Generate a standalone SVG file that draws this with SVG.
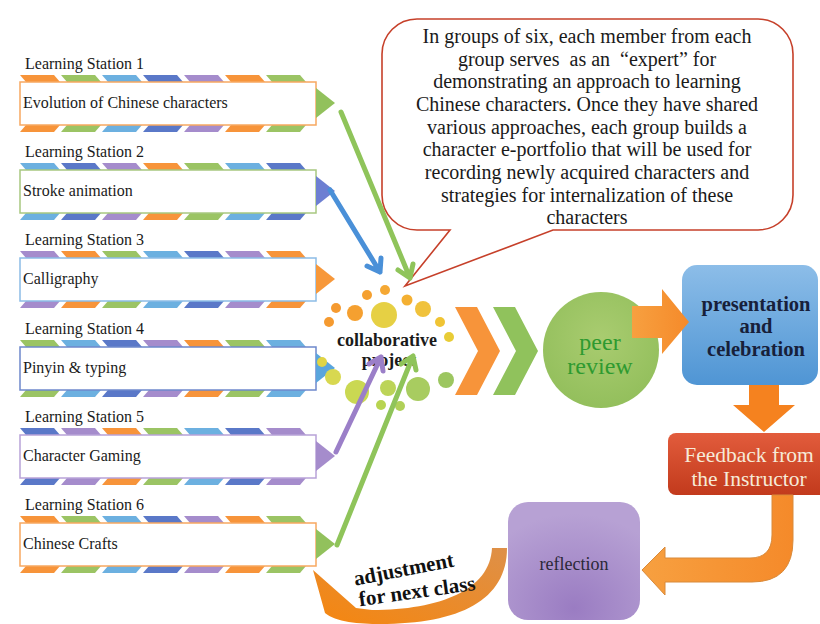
<svg xmlns="http://www.w3.org/2000/svg" xmlns:xlink="http://www.w3.org/1999/xlink" width="820" height="624" viewBox="0 0 820 624">
<defs>
<style>
.lab{font-family:"Liberation Serif","DejaVu Serif",serif;font-size:16px;fill:#1a1a1a}
.bx{fill:#fff;stroke-width:1.5}
.o{fill:#f7943a}.g{fill:#9bc464}.lb{fill:#6cb0e0}.b{fill:#5a78c8}.p{fill:#a58ccc}
.bub{font-family:"Liberation Serif","DejaVu Serif",serif;font-size:20px;fill:#1a1a1a;text-anchor:middle;white-space:pre}
.ln{fill:none;stroke-width:5;stroke-linecap:round;stroke-linejoin:round}
.bold{font-family:"Liberation Serif","DejaVu Serif",serif;font-weight:bold;text-anchor:middle}
.sf{font-family:"Liberation Serif","DejaVu Serif",serif;text-anchor:middle}
</style>
<polygon id="st" points="0,0 34,0 40,7 6,7"/>
<polygon id="sb" points="6,0 40,0 34,7 0,7"/>
<linearGradient id="gPres" x1="0" y1="0" x2="0" y2="1"><stop offset="0" stop-color="#8cbde8"/><stop offset="1" stop-color="#4f95d4"/></linearGradient>
<linearGradient id="gFb" x1="0" y1="0" x2="0" y2="1"><stop offset="0" stop-color="#e25c3c"/><stop offset="1" stop-color="#c23a1c"/></linearGradient>
<radialGradient id="gRef" cx="0.5" cy="0.9" r="0.8"><stop offset="0" stop-color="#9a7cc2"/><stop offset="1" stop-color="#b7a1d4"/></radialGradient>
<radialGradient id="gPeer" cx="0.5" cy="0.4" r="0.6"><stop offset="0" stop-color="#a9cc70"/><stop offset="1" stop-color="#93bf5c"/></radialGradient>
<linearGradient id="gOr" x1="0" y1="0" x2="1" y2="0"><stop offset="0" stop-color="#f7a040"/><stop offset="1" stop-color="#f58a2a"/></linearGradient>
<linearGradient id="gAdj" x1="1" y1="0" x2="0" y2="1"><stop offset="0" stop-color="#de9048"/><stop offset="1" stop-color="#f5860f"/></linearGradient>
</defs>
<rect width="820" height="624" fill="#ffffff"/>

<!-- Speech bubble -->
<g id="bubble">
<path d="M417 19 H758 A35 35 0 0 1 793 54 V195 A35 35 0 0 1 758 230 H553 L405 286 L450 230 H417 A35 35 0 0 1 382 195 V54 A35 35 0 0 1 417 19 Z" fill="#fff" stroke="#c6402a" stroke-width="1.6"/>
<text class="bub" x="587" y="43">In groups of six, each member from each</text>
<text class="bub" x="587" y="66">group serves  as an  “expert” for</text>
<text class="bub" x="587" y="88">demonstrating an approach to learning</text>
<text class="bub" x="587" y="111">Chinese characters. Once they have shared</text>
<text class="bub" x="587" y="134">various approaches, each group builds a</text>
<text class="bub" x="587" y="156">character e-portfolio that will be used for</text>
<text class="bub" x="587" y="179">recording newly acquired characters and</text>
<text class="bub" x="587" y="202">strategies for internalization of these</text>
<text class="bub" x="587" y="224">characters</text>
</g>

<!-- Station 1 -->
<g id="station1">
<text class="lab" x="25" y="69">Learning Station 1</text>
<use href="#st" x="20" y="75" class="o"/><use href="#st" x="61" y="75" class="g"/><use href="#st" x="102" y="75" class="lb"/><use href="#st" x="143" y="75" class="b"/><use href="#st" x="184" y="75" class="p"/><use href="#st" x="225" y="75" class="o"/><use href="#st" x="266" y="75" class="g"/>
<use href="#sb" x="20" y="125" class="o"/><use href="#sb" x="61" y="125" class="g"/><use href="#sb" x="102" y="125" class="lb"/><use href="#sb" x="143" y="125" class="b"/><use href="#sb" x="184" y="125" class="p"/><use href="#sb" x="225" y="125" class="o"/><use href="#sb" x="266" y="125" class="g"/>
<rect class="bx" x="20" y="82" width="296" height="43" stroke="#f7a860"/>
<polygon points="316,88 335,103 316,118" fill="#92c15c"/>
<text class="lab" x="23" y="108">Evolution of Chinese characters</text>
</g>

<!-- Station 2 -->
<g id="station2">
<text class="lab" x="25" y="157">Learning Station 2</text>
<use href="#st" x="20" y="163" class="lb"/><use href="#st" x="61" y="163" class="b"/><use href="#st" x="102" y="163" class="p"/><use href="#st" x="143" y="163" class="o"/><use href="#st" x="184" y="163" class="g"/><use href="#st" x="225" y="163" class="lb"/><use href="#st" x="266" y="163" class="b"/>
<use href="#sb" x="20" y="213" class="lb"/><use href="#sb" x="61" y="213" class="b"/><use href="#sb" x="102" y="213" class="p"/><use href="#sb" x="143" y="213" class="o"/><use href="#sb" x="184" y="213" class="g"/><use href="#sb" x="225" y="213" class="lb"/><use href="#sb" x="266" y="213" class="b"/>
<rect class="bx" x="20" y="170" width="296" height="43" stroke="#a8c880"/>
<polygon points="316,176 335,191 316,206" fill="#6d7fd2"/>
<text class="lab" x="23" y="196">Stroke animation</text>
</g>

<!-- Station 3 -->
<g id="station3">
<text class="lab" x="25" y="245">Learning Station 3</text>
<use href="#st" x="20" y="251" class="p"/><use href="#st" x="61" y="251" class="o"/><use href="#st" x="102" y="251" class="g"/><use href="#st" x="143" y="251" class="lb"/><use href="#st" x="184" y="251" class="b"/><use href="#st" x="225" y="251" class="p"/><use href="#st" x="266" y="251" class="o"/>
<use href="#sb" x="20" y="301" class="p"/><use href="#sb" x="61" y="301" class="o"/><use href="#sb" x="102" y="301" class="g"/><use href="#sb" x="143" y="301" class="lb"/><use href="#sb" x="184" y="301" class="b"/><use href="#sb" x="225" y="301" class="p"/><use href="#sb" x="266" y="301" class="o"/>
<rect class="bx" x="20" y="258" width="296" height="43" stroke="#8cbce6"/>
<polygon points="316,264 335,279 316,294" fill="#f7983a"/>
<text class="lab" x="23" y="284">Calligraphy</text>
</g>

<!-- Station 4 -->
<g id="station4">
<text class="lab" x="25" y="334">Learning Station 4</text>
<use href="#st" x="20" y="340" class="g"/><use href="#st" x="61" y="340" class="lb"/><use href="#st" x="102" y="340" class="b"/><use href="#st" x="143" y="340" class="p"/><use href="#st" x="184" y="340" class="o"/><use href="#st" x="225" y="340" class="g"/><use href="#st" x="266" y="340" class="lb"/>
<use href="#sb" x="20" y="390" class="g"/><use href="#sb" x="61" y="390" class="lb"/><use href="#sb" x="102" y="390" class="b"/><use href="#sb" x="143" y="390" class="p"/><use href="#sb" x="184" y="390" class="o"/><use href="#sb" x="225" y="390" class="g"/><use href="#sb" x="266" y="390" class="lb"/>
<rect class="bx" x="20" y="347" width="296" height="43" stroke="#6e88cc"/>
<polygon points="316,353 335,368 316,383" fill="#5aa5dd"/>
<text class="lab" x="23" y="373">Pinyin &amp; typing</text>
</g>

<!-- Station 5 -->
<g id="station5">
<text class="lab" x="25" y="422">Learning Station 5</text>
<use href="#st" x="20" y="428" class="b"/><use href="#st" x="61" y="428" class="p"/><use href="#st" x="102" y="428" class="o"/><use href="#st" x="143" y="428" class="g"/><use href="#st" x="184" y="428" class="lb"/><use href="#st" x="225" y="428" class="b"/><use href="#st" x="266" y="428" class="p"/>
<use href="#sb" x="20" y="478" class="b"/><use href="#sb" x="61" y="478" class="p"/><use href="#sb" x="102" y="478" class="o"/><use href="#sb" x="143" y="478" class="g"/><use href="#sb" x="184" y="478" class="lb"/><use href="#sb" x="225" y="478" class="b"/><use href="#sb" x="266" y="478" class="p"/>
<rect class="bx" x="20" y="435" width="296" height="43" stroke="#b8a2d8"/>
<polygon points="316,441 335,456 316,471" fill="#a58ccc"/>
<text class="lab" x="23" y="461">Character Gaming</text>
</g>

<!-- Station 6 -->
<g id="station6">
<text class="lab" x="25" y="510">Learning Station 6</text>
<use href="#st" x="20" y="516" class="o"/><use href="#st" x="61" y="516" class="g"/><use href="#st" x="102" y="516" class="lb"/><use href="#st" x="143" y="516" class="b"/><use href="#st" x="184" y="516" class="p"/><use href="#st" x="225" y="516" class="o"/><use href="#st" x="266" y="516" class="g"/>
<use href="#sb" x="20" y="566" class="o"/><use href="#sb" x="61" y="566" class="g"/><use href="#sb" x="102" y="566" class="lb"/><use href="#sb" x="143" y="566" class="b"/><use href="#sb" x="184" y="566" class="p"/><use href="#sb" x="225" y="566" class="o"/><use href="#sb" x="266" y="566" class="g"/>
<rect class="bx" x="20" y="523" width="296" height="43" stroke="#f7a860"/>
<polygon points="316,529 335,544 316,559" fill="#92c15c"/>
<text class="lab" x="23" y="549">Chinese Crafts</text>
</g>

<!-- Collaborative project -->
<g id="collab">
<circle cx="367" cy="295" r="5" fill="#f5a030"/>
<circle cx="385" cy="290" r="5" fill="#f5a834"/>
<circle cx="407" cy="300" r="5.5" fill="#f4b032"/>
<circle cx="336" cy="308" r="5" fill="#f59a30"/>
<circle cx="355" cy="313" r="8" fill="#f5a030"/>
<circle cx="329" cy="322" r="5" fill="#f59a30"/>
<circle cx="384" cy="315" r="13" fill="#e6d044"/>
<circle cx="423" cy="309" r="8" fill="#f0c23c"/>
<circle cx="440" cy="322" r="5" fill="#f0c434"/>
<circle cx="449" cy="337" r="5" fill="#e8cc36"/>
<circle cx="322" cy="362" r="5" fill="#e0d444"/>
<circle cx="333" cy="377" r="8" fill="#d8d850"/>
<circle cx="357" cy="392" r="12" fill="#cad852"/>
<circle cx="388" cy="388" r="8" fill="#bcd458"/>
<circle cx="418" cy="389" r="12" fill="#a8cc60"/>
<circle cx="446" cy="380" r="8" fill="#9cc660"/>
<circle cx="381" cy="405" r="5" fill="#b8d450"/>
<circle cx="400" cy="406" r="5" fill="#b0d058"/>
<text class="bold" x="387" y="346" font-size="18" fill="#1a1a1a">collaborative</text>
<text class="bold" x="389" y="366" font-size="18" fill="#1a1a1a">project</text>
</g>

<!-- Peer review -->
<g id="peer">
<circle cx="601" cy="350" r="58" fill="url(#gPeer)"/>
<text class="sf" x="600" y="350" font-size="24" fill="#2e9a30">peer</text>
<text class="sf" x="600" y="374" font-size="24" fill="#2e9a30">review</text>
</g>

<!-- Presentation -->
<g id="presentation">
<rect x="682" y="265" width="136" height="120" rx="15" fill="url(#gPres)"/>
<text class="bold" x="756" y="311" font-size="20.5" fill="#17203a">presentation</text>
<text class="bold" x="756" y="333" font-size="20.5" fill="#17203a">and</text>
<text class="bold" x="756" y="356" font-size="20.5" fill="#17203a">celebration</text>
</g>

<!-- Feedback -->
<g id="feedback">
<rect x="668" y="433" width="165" height="62" rx="8" fill="url(#gFb)"/>
<text class="sf" x="749" y="462" font-size="21.5" fill="#f6ead8">Feedback from</text>
<text class="sf" x="749" y="486" font-size="21.5" fill="#f6ead8">the Instructor</text>
</g>

<!-- Reflection -->
<g id="reflection">
<rect x="508" y="502" width="132" height="118" rx="20" fill="url(#gRef)"/>
<text class="sf" x="574" y="570" font-size="18" fill="#2b2838">reflection</text>
</g>

<!-- Connectors -->
<g id="connectors">
<path class="ln" stroke="#8fc45a" d="M341 112 L410 278 M398 270 L410 278 L413 264"/>
<path class="ln" stroke="#4a90d8" d="M330 190 L380 272 M367 266 L380 272 L381 258"/>
<path class="ln" stroke="#9b7fc8" d="M336 452 L381 357 M369 364 L381 357 L383 371"/>
<path class="ln" stroke="#8fc45a" d="M337 545 L413 356 M401 364 L413 356 L416 370"/>
<polygon points="455,307 477,307 500,351 477,395 455,395 478,351" fill="#f7943a"/>
<polygon points="493,307 515,307 538,351 515,395 493,395 516,351" fill="#90c25c"/>
<polygon points="632,306 662,306 662,289 689,322 662,354 662,338 632,338" fill="url(#gOr)"/>
<polygon points="749,385 779,385 779,405 795,405 764,432 733,405 749,405" fill="#f5821f"/>
<path d="M772 495 V535 Q772 558 750 558 H665 V547 L642 570 L665 595 V582 H752 Q793 582 793 540 V495 Z" fill="url(#gOr)" stroke="#d98a3a" stroke-width="1"/>
<path d="M492 548 C490 590 440 610 372 610 L356 608 L313 570 L325 613 C335 622 360 624 380 624 C460 624 507 600 507 548 Z" fill="url(#gAdj)"/>
<text class="bold" font-size="21" fill="#111" transform="translate(405,576) rotate(-11)">adjustment</text>
<text class="bold" font-size="21" fill="#111" transform="translate(418,598) rotate(-8)">for next class</text>
</g>
</svg>
